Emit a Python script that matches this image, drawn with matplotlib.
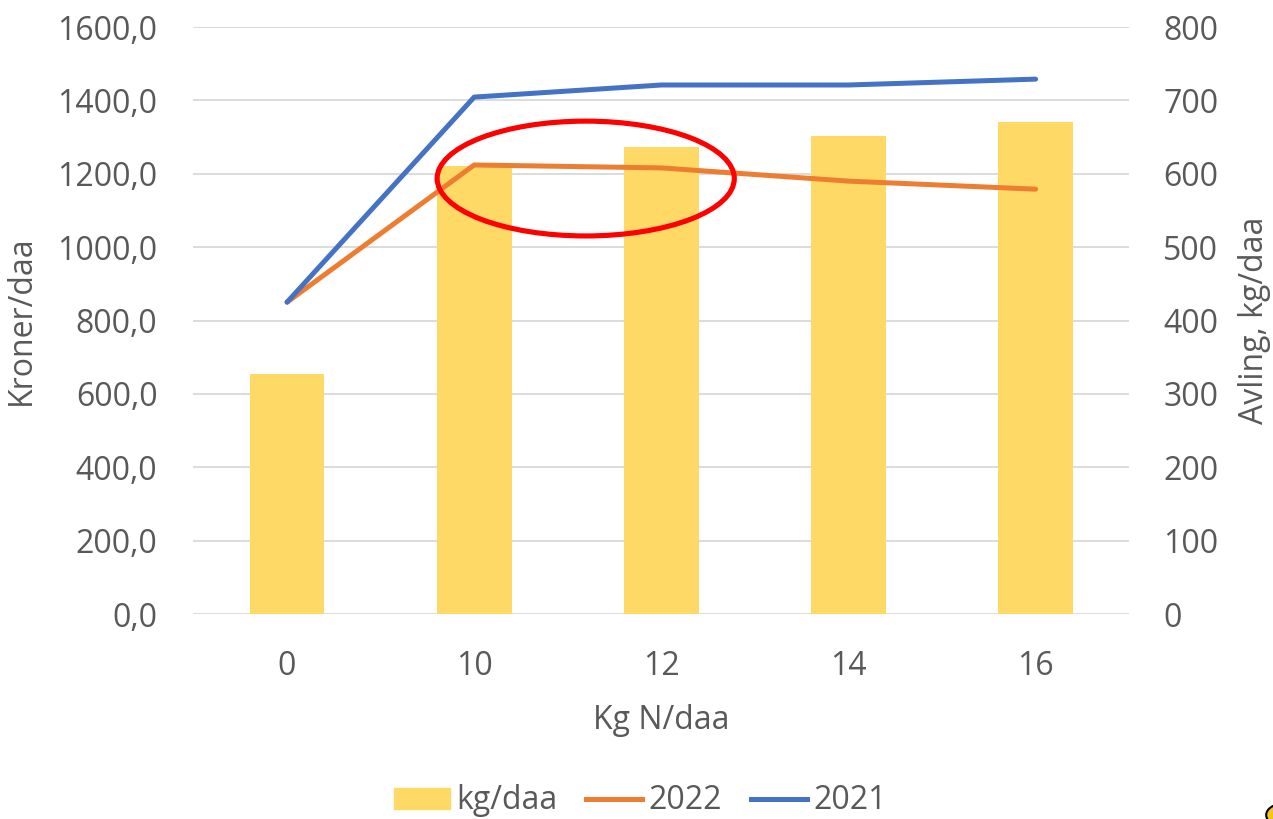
import numpy as np
import matplotlib
matplotlib.use('Agg')
import matplotlib.pyplot as plt
from matplotlib.patches import Ellipse, Circle, Patch
from matplotlib.lines import Line2D
from matplotlib.ticker import FuncFormatter

plt.rcParams['font.family'] = ['Open Sans', 'DejaVu Sans']

kategorier = ['0', '10', '12', '14', '16']
avling = [327, 610, 636, 651, 670]          # kg/daa, høyre akse
kroner_2022 = [850, 1224, 1216, 1180, 1158]  # kroner/daa
kroner_2021 = [850, 1409, 1442, 1442, 1458]

GUL = '#FFD966'
ORANSJE = '#ED7D31'
BLAA = '#4472C4'
GRAA = '#595959'
FS = 23

fig = plt.figure(figsize=(12.73, 8.19), dpi=100)
ax = fig.add_axes([0.152, 0.2503, 0.735, 0.7167])
ax2 = ax.twinx()

x = np.arange(len(kategorier))

ax2.bar(x, avling, width=0.4, color=GUL, zorder=1)
ax2.set_ylim(0, 800)
ax2.set_yticks(np.arange(0, 801, 100))

ax.plot(x, kroner_2022, color=ORANSJE, lw=3.6, solid_capstyle='round', zorder=3)
ax.plot(x, kroner_2021, color=BLAA, lw=3.6, solid_capstyle='round', zorder=4)
ax.set_ylim(0, 1600)
ax.set_yticks(np.arange(0, 1601, 200))
ax.yaxis.set_major_formatter(FuncFormatter(lambda v, p: f"{v:.1f}".replace('.', ',')))
ax.set_xlim(-0.5, len(kategorier) - 0.5)
ax.set_xticks(x)
ax.set_xticklabels(kategorier)

ax.set_zorder(ax2.get_zorder() + 1)
ax.patch.set_visible(False)
for v in np.arange(0, 1601, 200):
    ax2.axhline(v / 2, color='#D9D9D9', lw=1.3, zorder=0)

for a in (ax, ax2):
    for s in a.spines.values():
        s.set_visible(False)
    a.tick_params(length=0, labelsize=FS, colors=GRAA)
ax.tick_params(axis='y', pad=26)
ax.tick_params(axis='x', pad=26)
ax2.tick_params(axis='y', pad=24.5)

ax.set_ylabel('Kroner/daa', fontsize=FS, color=GRAA, labelpad=14)
ax2.set_ylabel('Avling, kg/daa', fontsize=FS, color=GRAA, labelpad=14)
ax.set_xlabel('Kg N/daa', fontsize=FS, color=GRAA, labelpad=15)

ax.add_patch(Ellipse((1.596, 1187), 1.588, 313, fill=False, edgecolor='#FF0000',
                     lw=3.7, clip_on=False, zorder=10))

handles = [Patch(color=GUL), Line2D([], [], color=ORANSJE, lw=3.6),
           Line2D([], [], color=BLAA, lw=3.6)]
fig.legend(handles, ['kg/daa', '2022', '2021'], loc='center', bbox_to_anchor=(0.503, 0.022),
           ncol=3, frameon=False, fontsize=FS, labelcolor=GRAA, handlelength=1.75,
           handleheight=0.65, handletextpad=0.2, columnspacing=0.9)

# liten avkuttet figur nederst i hjørnet
fig.patches.append(Circle((1284 / 1273, 1 - 815 / 819), 0.014, transform=fig.transFigure,
                          facecolor='#F5C518', edgecolor='black', lw=1.5))

fig.savefig('out.png', dpi=100)
